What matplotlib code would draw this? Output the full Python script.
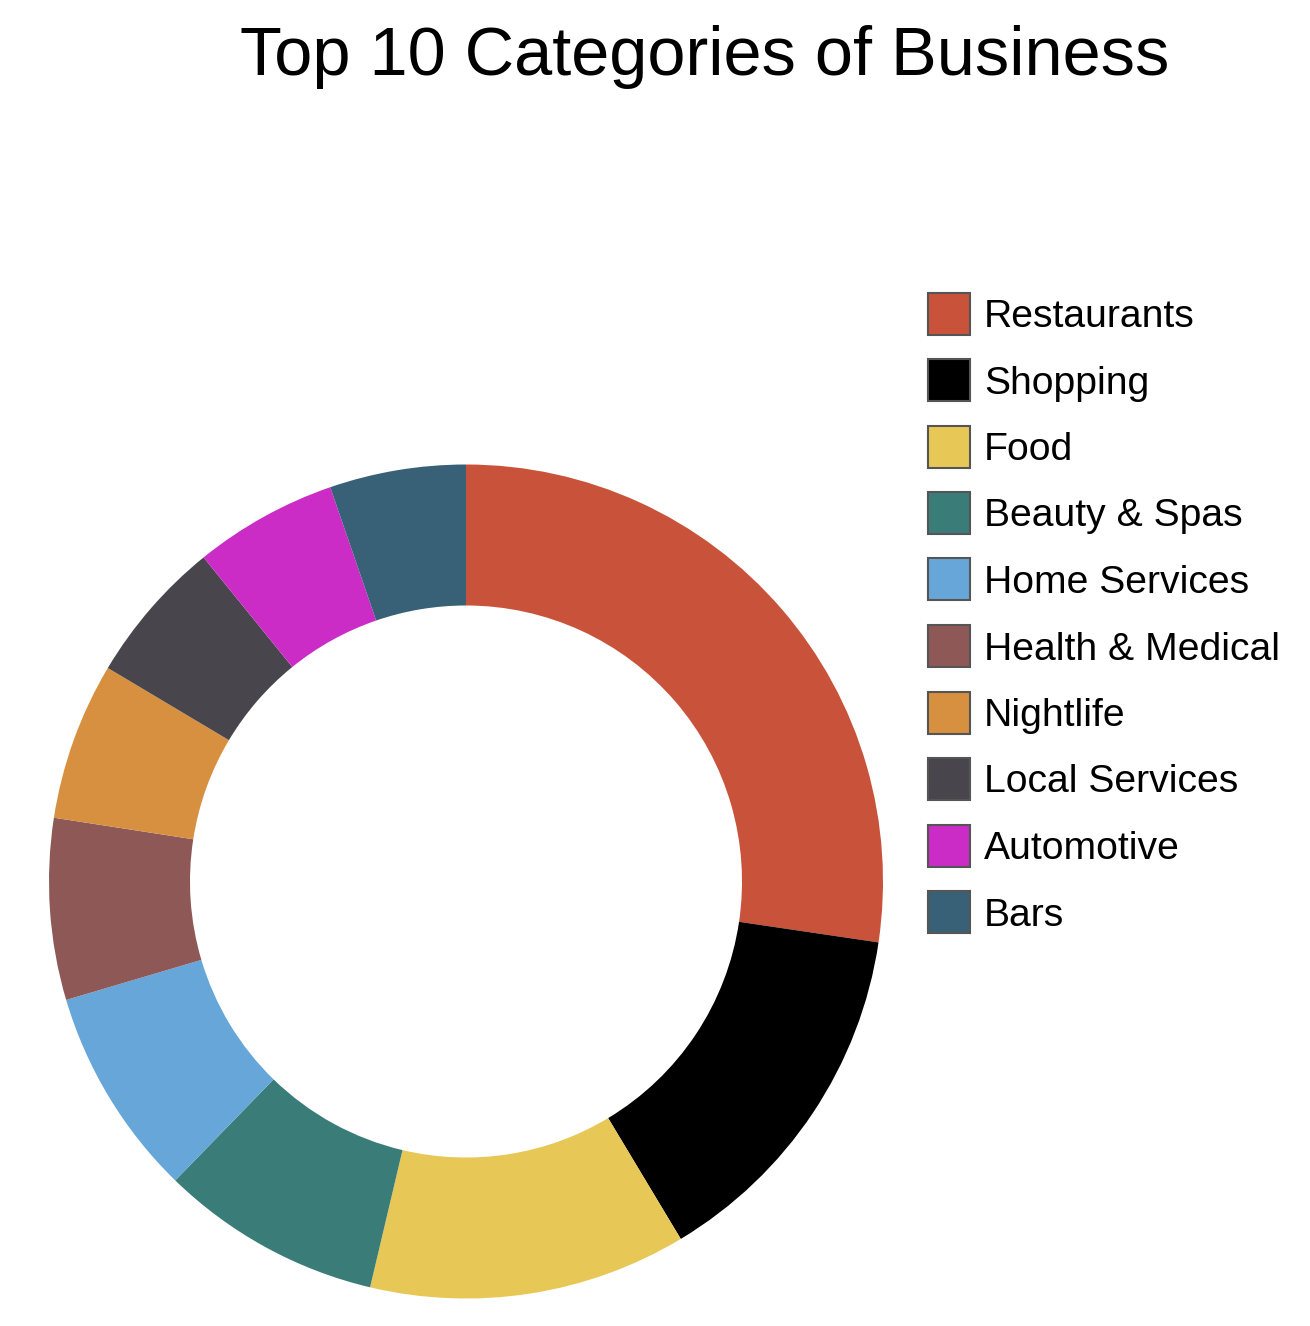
import matplotlib
matplotlib.use("Agg")
import matplotlib.pyplot as plt
from matplotlib.patches import Rectangle

categories = ["Restaurants", "Shopping", "Food", "Beauty & Spas", "Home Services",
              "Health & Medical", "Nightlife", "Local Services", "Automotive", "Bars"]
values = [98.4, 50.6, 44.3, 30.9, 29.3, 25.3, 22.0, 20.2, 20.0, 19.0]
colors = ["#C9533A", "#000000", "#E7C755", "#3A7D78", "#67A6D8",
          "#8E5856", "#D69040", "#48464C", "#CB2CC6", "#386177"]

W, H = 1310, 1326
fig = plt.figure(figsize=(W / 100, H / 100), dpi=100)
plt.rcParams['font.family'] = ['Liberation Sans', 'DejaVu Sans']

cx, cy, R = 466, 881.5, 417
ax = fig.add_axes([(cx - R) / W, (H - cy - R) / H, 2 * R / W, 2 * R / H])
ax.pie(values, colors=colors, startangle=90, counterclock=False, radius=1,
       wedgeprops=dict(width=1 - 276 / 417, edgecolor='none', linewidth=0))
ax.set_xlim(-1, 1)
ax.set_ylim(-1, 1)
ax.set_aspect('equal')
ax.axis('off')

fig.text(705 / W, 1 - 75 / H, "Top 10 Categories of Business", ha='center', va='baseline',
         fontsize=49.3)

# legend
x0, y0, box, pitch = 928, 313.5, 42, 66.5
for i, (lab, col) in enumerate(zip(categories, colors)):
    yc = y0 + i * pitch
    fig.patches.append(Rectangle(((x0) / W, 1 - (yc + box / 2) / H), box / W, box / H,
                                 transform=fig.transFigure, facecolor=col,
                                 edgecolor='#555555', linewidth=1.5))
    fig.text(984 / W, 1 - (yc + 13.5) / H, lab, ha='left', va='baseline', fontsize=28.2)

fig.savefig("out.png", dpi=100)
